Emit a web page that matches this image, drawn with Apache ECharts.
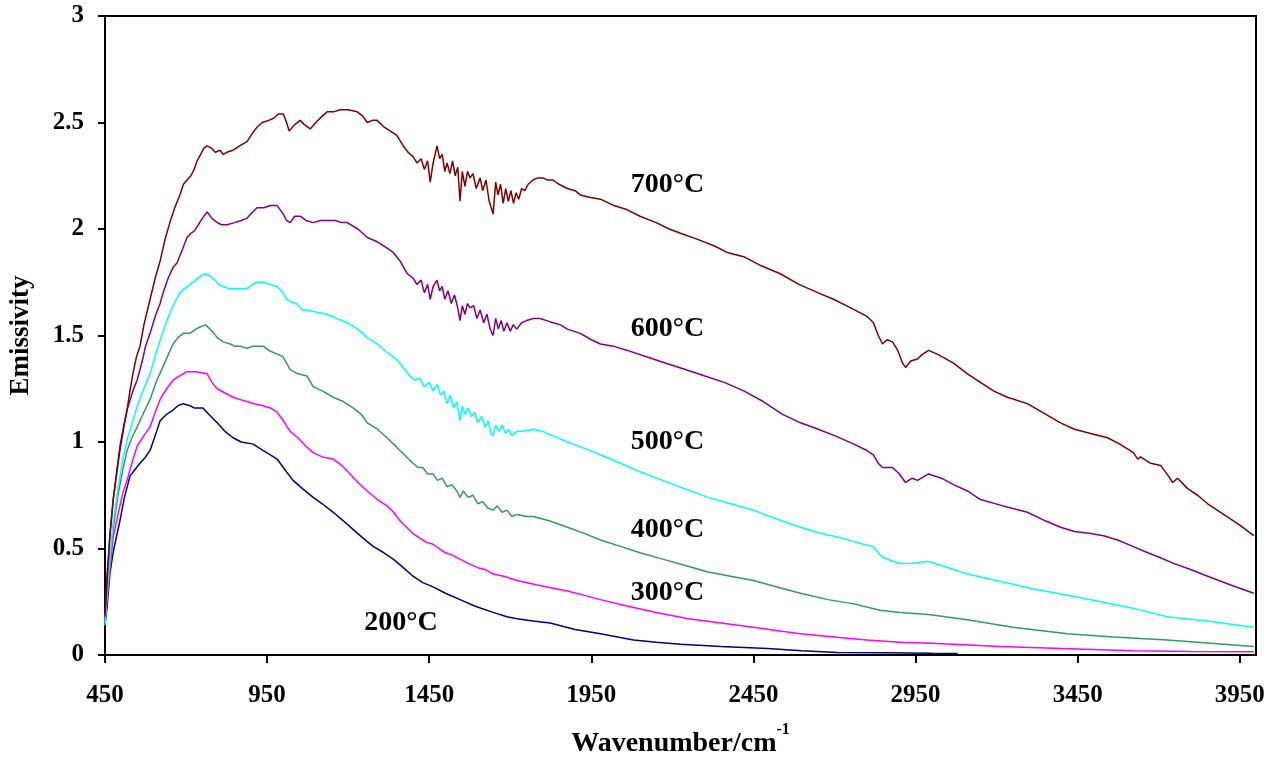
<!DOCTYPE html>
<html>
<head>
<meta charset="utf-8">
<script src="https://cdn.jsdelivr.net/npm/echarts@6/dist/echarts.min.js"></script>
<style>
html,body{margin:0;padding:0;background:#fff;}
#chart{width:1270px;height:759px;}
</style>
</head>
<body>
<div id="chart"></div>
<script>
// ---- data: [wavenumber (cm^-1), emissivity] ----
const s700 = [[450,0.20],[456,0.37],[465,0.55],[475,0.73],[486,0.85],[496,0.96],[507,1.06],[518,1.15],[527,1.24],[536,1.32],[547,1.40],[558,1.45],[570,1.55],[589,1.67],[605,1.77],[620,1.85],[635,1.95],[650,2.03],[665,2.10],[681,2.16],[692,2.21],[703,2.23],[715,2.25],[725,2.28],[734,2.32],[745,2.35],[755,2.38],[765,2.39],[778,2.38],[790,2.36],[805,2.37],[815,2.35],[826,2.36],[845,2.37],[865,2.39],[888,2.41],[905,2.45],[920,2.48],[935,2.50],[955,2.51],[970,2.52],[985,2.54],[1000,2.54],[1010,2.50],[1018,2.46],[1035,2.49],[1052,2.51],[1065,2.49],[1083,2.47],[1100,2.50],[1120,2.53],[1135,2.55],[1155,2.55],[1175,2.56],[1200,2.56],[1228,2.55],[1245,2.53],[1259,2.50],[1275,2.51],[1289,2.51],[1310,2.48],[1330,2.46],[1350,2.44],[1370,2.39],[1385,2.36],[1400,2.34],[1412,2.31],[1425,2.33],[1435,2.28],[1445,2.32],[1453,2.22],[1462,2.31],[1474,2.39],[1482,2.33],[1490,2.35],[1498,2.27],[1505,2.31],[1514,2.26],[1522,2.32],[1530,2.25],[1538,2.29],[1545,2.13],[1552,2.27],[1560,2.20],[1568,2.27],[1576,2.24],[1585,2.26],[1595,2.19],[1607,2.24],[1615,2.18],[1625,2.23],[1635,2.13],[1647,2.07],[1655,2.22],[1662,2.16],[1670,2.21],[1678,2.12],[1686,2.19],[1694,2.13],[1702,2.18],[1710,2.12],[1718,2.17],[1726,2.14],[1735,2.19],[1745,2.18],[1755,2.21],[1770,2.23],[1785,2.24],[1800,2.24],[1815,2.23],[1832,2.23],[1850,2.21],[1876,2.19],[1900,2.18],[1916,2.16],[1940,2.15],[1978,2.14],[2020,2.11],[2061,2.09],[2100,2.06],[2150,2.03],[2190,2.00],[2225,1.98],[2280,1.95],[2330,1.92],[2369,1.89],[2420,1.87],[2470,1.83],[2533,1.79],[2590,1.74],[2650,1.70],[2697,1.67],[2750,1.63],[2800,1.59],[2820,1.56],[2835,1.50],[2848,1.46],[2862,1.48],[2879,1.47],[2895,1.43],[2910,1.37],[2919,1.35],[2935,1.38],[2956,1.39],[2970,1.41],[2990,1.43],[3020,1.41],[3067,1.37],[3110,1.32],[3150,1.28],[3190,1.24],[3233,1.21],[3295,1.18],[3340,1.14],[3397,1.09],[3440,1.06],[3490,1.04],[3542,1.02],[3580,0.99],[3622,0.95],[3635,0.92],[3644,0.93],[3675,0.90],[3706,0.89],[3730,0.84],[3743,0.81],[3758,0.83],[3790,0.78],[3820,0.75],[3851,0.71],[3900,0.66],[3950,0.61],[3993,0.56]];

const s600 = [[450,0.18],[455,0.30],[465,0.57],[475,0.72],[486,0.86],[496,0.98],[507,1.07],[518,1.15],[536,1.24],[549,1.29],[565,1.38],[575,1.45],[589,1.51],[605,1.59],[620,1.65],[629,1.70],[645,1.77],[660,1.82],[672,1.84],[688,1.90],[703,1.96],[715,1.98],[725,1.99],[734,2.01],[750,2.05],[765,2.08],[780,2.05],[796,2.03],[810,2.02],[826,2.02],[850,2.03],[870,2.04],[888,2.05],[905,2.08],[919,2.10],[940,2.10],[960,2.11],[981,2.11],[1000,2.07],[1010,2.04],[1021,2.03],[1035,2.06],[1052,2.06],[1070,2.04],[1092,2.03],[1115,2.04],[1135,2.04],[1160,2.04],[1180,2.03],[1197,2.03],[1230,2.00],[1259,1.96],[1290,1.94],[1320,1.91],[1339,1.89],[1360,1.85],[1382,1.79],[1400,1.77],[1412,1.74],[1425,1.76],[1435,1.70],[1445,1.74],[1453,1.67],[1462,1.73],[1474,1.76],[1482,1.71],[1490,1.73],[1498,1.67],[1508,1.71],[1518,1.65],[1528,1.69],[1538,1.63],[1545,1.57],[1552,1.64],[1560,1.60],[1568,1.65],[1576,1.63],[1587,1.64],[1597,1.58],[1607,1.62],[1618,1.56],[1628,1.60],[1638,1.53],[1647,1.50],[1655,1.58],[1663,1.53],[1672,1.57],[1680,1.52],[1690,1.56],[1700,1.52],[1709,1.55],[1720,1.53],[1735,1.56],[1750,1.57],[1771,1.58],[1792,1.58],[1812,1.57],[1832,1.56],[1855,1.55],[1876,1.53],[1916,1.51],[1950,1.48],[1978,1.46],[2018,1.45],[2061,1.43],[2120,1.40],[2180,1.37],[2240,1.34],[2300,1.31],[2360,1.28],[2420,1.24],[2480,1.19],[2540,1.13],[2595,1.09],[2650,1.06],[2700,1.03],[2760,0.99],[2800,0.96],[2820,0.94],[2835,0.90],[2848,0.88],[2879,0.88],[2900,0.85],[2919,0.81],[2940,0.83],[2956,0.82],[2990,0.85],[3030,0.83],[3067,0.80],[3110,0.77],[3150,0.73],[3220,0.70],[3295,0.67],[3350,0.63],[3397,0.60],[3440,0.58],[3490,0.57],[3530,0.56],[3573,0.54],[3620,0.51],[3666,0.48],[3700,0.46],[3746,0.43],[3800,0.40],[3851,0.37],[3920,0.33],[3993,0.29]];

const s500 = [[450,0.14],[456,0.28],[465,0.45],[475,0.62],[490,0.78],[505,0.92],[520,1.02],[536,1.10],[550,1.17],[567,1.24],[589,1.32],[610,1.43],[625,1.50],[641,1.57],[660,1.64],[681,1.70],[695,1.72],[712,1.74],[730,1.76],[745,1.78],[760,1.79],[774,1.78],[790,1.76],[800,1.74],[814,1.73],[830,1.72],[850,1.72],[870,1.72],[888,1.72],[905,1.74],[919,1.75],[940,1.75],[960,1.74],[981,1.73],[1000,1.70],[1010,1.67],[1021,1.66],[1040,1.65],[1060,1.62],[1073,1.62],[1100,1.61],[1135,1.60],[1165,1.58],[1197,1.56],[1230,1.53],[1259,1.49],[1290,1.46],[1320,1.42],[1340,1.40],[1360,1.37],[1380,1.33],[1391,1.31],[1405,1.29],[1420,1.30],[1435,1.26],[1450,1.28],[1462,1.24],[1475,1.27],[1485,1.22],[1495,1.24],[1505,1.18],[1515,1.22],[1525,1.16],[1535,1.19],[1545,1.10],[1552,1.17],[1560,1.13],[1570,1.16],[1580,1.12],[1590,1.14],[1600,1.09],[1612,1.12],[1622,1.07],[1632,1.10],[1640,1.04],[1647,1.03],[1655,1.08],[1665,1.05],[1675,1.08],[1685,1.04],[1695,1.06],[1705,1.03],[1721,1.05],[1740,1.05],[1771,1.06],[1800,1.05],[1830,1.03],[1876,1.00],[1930,0.97],[1978,0.94],[2040,0.90],[2100,0.86],[2170,0.82],[2240,0.78],[2310,0.74],[2380,0.71],[2450,0.68],[2520,0.64],[2595,0.60],[2660,0.57],[2720,0.55],[2790,0.52],[2820,0.51],[2835,0.48],[2848,0.46],[2880,0.44],[2903,0.43],[2940,0.43],[2987,0.44],[3030,0.42],[3110,0.38],[3200,0.35],[3314,0.31],[3420,0.28],[3521,0.25],[3620,0.22],[3727,0.18],[3850,0.16],[3993,0.13]];

const s400 = [[450,0.15],[456,0.27],[465,0.44],[475,0.59],[490,0.75],[505,0.87],[518,0.96],[533,1.02],[549,1.07],[570,1.14],[589,1.20],[610,1.29],[625,1.34],[645,1.41],[660,1.46],[675,1.49],[691,1.51],[712,1.51],[730,1.53],[743,1.54],[760,1.55],[774,1.53],[786,1.51],[796,1.49],[815,1.47],[836,1.46],[850,1.45],[867,1.45],[888,1.44],[907,1.45],[938,1.45],[955,1.43],[969,1.42],[985,1.41],[999,1.40],[1010,1.37],[1021,1.34],[1045,1.32],[1073,1.31],[1092,1.26],[1120,1.24],[1154,1.21],[1185,1.19],[1215,1.16],[1240,1.13],[1259,1.09],[1290,1.06],[1320,1.02],[1340,0.99],[1360,0.96],[1380,0.93],[1400,0.90],[1415,0.88],[1430,0.88],[1445,0.85],[1462,0.85],[1475,0.82],[1490,0.83],[1505,0.79],[1520,0.80],[1535,0.77],[1545,0.74],[1555,0.77],[1570,0.74],[1585,0.75],[1600,0.71],[1615,0.72],[1630,0.69],[1647,0.68],[1660,0.70],[1675,0.67],[1690,0.68],[1705,0.65],[1721,0.66],[1750,0.65],[1771,0.65],[1820,0.63],[1876,0.60],[1930,0.57],[1978,0.54],[2040,0.51],[2100,0.48],[2170,0.45],[2240,0.42],[2310,0.39],[2380,0.37],[2450,0.35],[2520,0.32],[2595,0.29],[2680,0.26],[2760,0.24],[2840,0.21],[2903,0.20],[2990,0.19],[3110,0.165],[3250,0.13],[3419,0.10],[3560,0.085],[3727,0.07],[3860,0.055],[3993,0.04]];

const s300 = [[450,0.17],[456,0.26],[465,0.40],[475,0.55],[490,0.66],[505,0.76],[518,0.82],[533,0.90],[549,0.98],[570,1.03],[589,1.07],[605,1.14],[620,1.20],[640,1.25],[660,1.29],[680,1.31],[703,1.33],[730,1.33],[765,1.32],[780,1.28],[796,1.25],[820,1.23],[845,1.21],[865,1.20],[888,1.19],[910,1.18],[938,1.17],[960,1.16],[981,1.14],[1000,1.10],[1021,1.05],[1045,1.02],[1070,0.98],[1092,0.95],[1120,0.93],[1154,0.92],[1180,0.89],[1206,0.85],[1230,0.81],[1259,0.77],[1290,0.73],[1320,0.70],[1340,0.67],[1360,0.63],[1380,0.60],[1400,0.57],[1420,0.55],[1440,0.53],[1462,0.52],[1480,0.50],[1500,0.48],[1520,0.47],[1545,0.45],[1570,0.43],[1600,0.41],[1625,0.40],[1647,0.38],[1680,0.37],[1721,0.35],[1780,0.33],[1876,0.30],[1930,0.28],[1978,0.26],[2060,0.23],[2150,0.20],[2250,0.17],[2350,0.15],[2450,0.13],[2520,0.115],[2595,0.10],[2700,0.085],[2800,0.07],[2903,0.06],[3000,0.055],[3100,0.048],[3212,0.04],[3400,0.03],[3622,0.02],[3800,0.017],[3993,0.015]];

const s200 = [[450,0.14],[456,0.22],[465,0.38],[475,0.48],[486,0.56],[496,0.63],[510,0.74],[527,0.84],[542,0.87],[558,0.90],[575,0.93],[589,0.96],[605,1.03],[620,1.10],[640,1.13],[660,1.15],[675,1.17],[691,1.18],[712,1.17],[725,1.16],[740,1.16],[752,1.16],[770,1.13],[796,1.09],[820,1.05],[845,1.02],[870,1.00],[907,0.99],[938,0.96],[960,0.94],[981,0.92],[1005,0.87],[1030,0.82],[1060,0.78],[1092,0.74],[1120,0.71],[1154,0.67],[1185,0.63],[1215,0.59],[1245,0.55],[1277,0.51],[1310,0.48],[1339,0.45],[1370,0.41],[1400,0.37],[1430,0.34],[1462,0.32],[1500,0.29],[1545,0.26],[1590,0.23],[1647,0.20],[1690,0.18],[1721,0.17],[1770,0.16],[1823,0.15],[1900,0.12],[1978,0.10],[2080,0.07],[2150,0.06],[2225,0.05],[2350,0.04],[2493,0.03],[2600,0.02],[2709,0.012],[2850,0.01],[3000,0.008],[3080,0.007]];

const seriesNames = ['200°C','300°C','400°C','500°C','600°C','700°C'];
const seriesData = [s200, s300, s400, s500, s600, s700];
const seriesColors = ['#000080','#FF00FF','#339966','#00FFFF','#800080','#800000'];
// label anchor in data coordinates [wavenumber, emissivity]
const labelPos = [[1363,0.15],[2185,0.29],[2185,0.59],[2185,1.0],[2185,1.53],[2185,2.21]];
const xTicks = [450,950,1450,1950,2450,2950,3450,3950];
const yTicks = [0,0.5,1,1.5,2,2.5,3];

const FONT = '"Liberation Serif","Times New Roman",serif';

const chart = echarts.init(document.getElementById('chart'), null, {renderer:'canvas'});
const series = seriesData.map((d, i) => ({
  name: seriesNames[i],
  type: 'line',
  data: d,
  showSymbol: false,
  symbol: 'none',
  lineStyle: {color: seriesColors[i], width: 1.5},
  itemStyle: {color: seriesColors[i]},
  z: 2 + i,
  markPoint: {
    symbol: 'circle',
    symbolSize: 1,
    itemStyle: {color: 'rgba(0,0,0,0)'},
    silent: true,
    data: [{coord: labelPos[i], value: seriesNames[i]}],
    label: {
      show: true, position: 'inside', formatter: seriesNames[i],
      color: '#000', fontFamily: FONT, fontWeight: 'bold', fontSize: 28
    }
  }
}));

chart.setOption({
  animation: false,
  backgroundColor: '#fff',
  grid: {left: 105, right: 14, top: 16, bottom: 104, containLabel: false, outerBoundsMode: 'none', show: true, borderColor: '#000', borderWidth: 2, backgroundColor: 'transparent'},
  xAxis: {
    type: 'value', min: 450, max: 4000,
    name: '{a|Wavenumber/cm}{b|-1}',
    nameLocation: 'middle', nameGap: 67,
    nameTextStyle: {
      rich: {
        a: {fontFamily: FONT, fontWeight: 'bold', fontSize: 28, color: '#000', verticalAlign: 'bottom'},
        b: {fontFamily: FONT, fontWeight: 'bold', fontSize: 16, color: '#000', verticalAlign: 'top', padding: [0,0,20,0]}
      }
    },
    axisLine: {show: true, onZero: false, lineStyle: {color: '#000', width: 2}},
    axisTick: {show: true, inside: false, length: 8, customValues: xTicks, lineStyle: {color: '#000', width: 2}},
    axisLabel: {customValues: xTicks, formatter: v => String(v), margin: 28, color: '#000', fontFamily: FONT, fontWeight: 'bold', fontSize: 25},
    splitLine: {show: false}
  },
  yAxis: {
    type: 'value', min: 0, max: 3, interval: 0.5,
    name: 'Emissivity', nameLocation: 'middle', nameGap: 70, nameRotate: 90,
    nameTextStyle: {fontFamily: FONT, fontWeight: 'bold', fontSize: 27, color: '#000'},
    axisLine: {show: true, lineStyle: {color: '#000', width: 2}},
    axisTick: {show: true, inside: false, length: 7, lineStyle: {color: '#000', width: 2}},
    axisLabel: {margin: 21, formatter: v => String(v), color: '#000', fontFamily: FONT, fontWeight: 'bold', fontSize: 25},
    splitLine: {show: false}
  },
  series: series
});
</script>
</body>
</html>
